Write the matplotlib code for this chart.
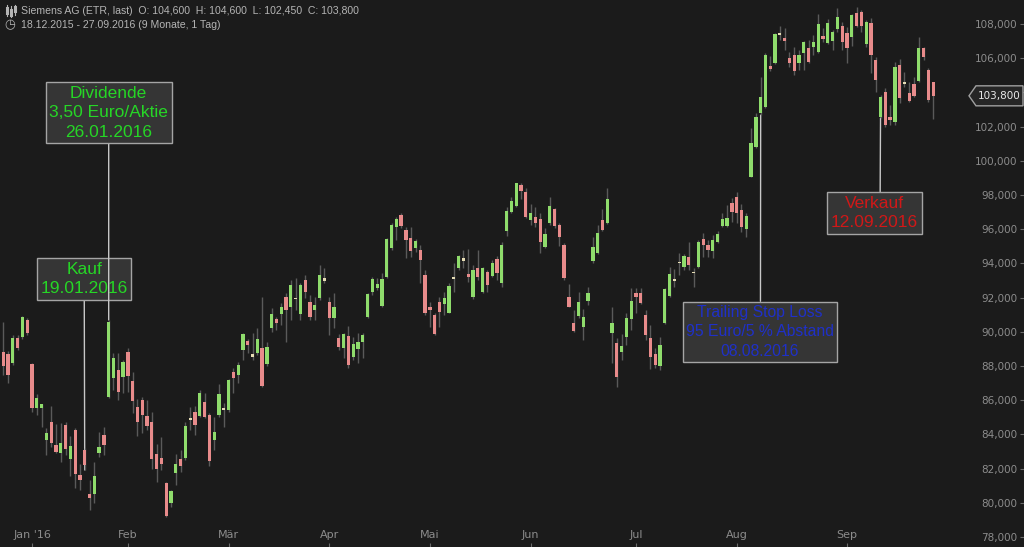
import matplotlib
matplotlib.use("Agg")
import matplotlib.pyplot as plt
from matplotlib.patches import Polygon
from matplotlib.lines import Line2D
from matplotlib.transforms import blended_transform_factory

# ---------------- data ----------------
opens = [88.84, 88.7, 88.16, 89.66, 89.68, 90.69, 88.10, 85.52, 85.52, 83.67,
         84.74, 83.38, 82.89, 84.55, 82.54, 84.26, 81.63, 83.09, 80.5, 80.5,
         82.89, 83.97, 86.17, 87.28, 87.77, 87.34, 88.84, 87.14, 85.62, 86.01,
         85.07, 84.74, 82.85, 82.6, 81.14, 79.97, 81.76, 82.54, 82.6, 84.84,
         85.33, 85.07, 85.92, 85.14, 83.68, 85.14, 85.43, 85.43, 87.67, 87.47,
         88.94, 89.48, 88.55, 88.74, 89.03, 88.12, 90.2, 90.73, 91.04, 92.02,
         91.43, 92.0, 91.04, 93.03, 91.77, 91.28, 91.96, 93.0, 91.77, 90.79,
         89.62, 89.04, 89.76, 88.51, 88.98, 89.39, 90.85, 92.35, 92.54, 91.51,
         93.19, 94.88, 96.11, 96.83, 95.96, 95.47, 94.88, 94.79, 93.32, 91.47,
         90.99, 91.77, 91.63, 91.12, 93.09, 93.71, 94.16, 93.36, 92.01, 93.75,
         92.35, 93.5, 93.26, 94.24, 92.87, 95.91, 97.02, 97.35, 98.58, 98.15,
         96.54, 96.73, 96.58, 94.94, 96.34, 97.16, 96.25, 95.07, 92.01, 90.53,
         90.92, 90.26, 91.82, 94.16, 94.59, 96.54, 96.38, 89.91, 89.36, 88.84,
         89.72, 90.73, 92.29, 92.29, 90.99, 89.62, 88.7, 88.0, 90.54, 92.1,
         93.0, 94.03, 93.81, 94.36, 93.48, 93.77, 95.41, 95.08, 94.73, 95.27,
         96.19, 96.19, 97.55, 97.87, 97.13, 96.0, 99.07, 100.82, 102.77, 103.12,
         105.54, 105.74, 107.35, 107.18, 105.99, 106.18, 105.7, 106.28, 106.57, 106.63,
         106.38, 107.32, 106.9, 107.02, 107.69, 107.88, 107.49, 107.26, 108.66, 108.72,
         106.83, 108.04, 105.89, 102.58, 104.04, 102.58, 102.29, 105.6, 104.62, 103.94,
         104.49, 104.68, 106.57, 105.31, 104.6]
highs = [90.59, 88.9, 89.81, 89.81, 90.9, 90.79, 88.15, 86.34, 85.76, 84.35,
         85.66, 84.6, 84.65, 84.74, 83.9, 84.36, 82.27, 83.19, 81.33, 82.41,
         84.16, 84.45, 90.69, 88.78, 88.78, 88.35, 89.03, 87.67, 86.05, 86.21,
         86.01, 85.33, 83.44, 83.83, 81.24, 80.75, 82.85, 83.09, 84.74, 85.62,
         85.66, 86.6, 86.4, 85.23, 85.04, 86.95, 85.82, 87.22, 87.86, 88.25,
         89.95, 89.56, 89.95, 90.2, 92.02, 89.42, 91.37, 90.89, 91.7, 92.25,
         93.03, 93.13, 92.84, 93.32, 92.15, 92.06, 93.91, 93.72, 92.06, 92.25,
         89.87, 89.91, 90.35, 89.68, 89.91, 89.95, 92.25, 93.23, 93.13, 93.42,
         95.47, 96.38, 96.7, 96.93, 96.15, 96.15, 95.41, 95.08, 93.62, 91.77,
         91.08, 92.06, 92.35, 92.84, 94.0, 94.5, 94.78, 94.82, 93.9, 94.78,
         93.81, 93.61, 94.2, 94.43, 95.27, 97.28, 97.86, 98.72, 98.68, 98.39,
         97.47, 97.28, 96.96, 96.05, 97.9, 97.22, 96.34, 95.17, 92.79, 91.27,
         92.35, 91.31, 92.64, 95.56, 96.24, 97.16, 98.39, 91.47, 89.62, 89.87,
         91.08, 92.54, 92.54, 92.54, 91.28, 90.4, 89.04, 89.68, 92.54, 93.81,
         93.66, 94.63, 94.55, 95.27, 93.71, 95.37, 95.76, 95.37, 95.66, 95.92,
         96.93, 97.42, 97.81, 98.2, 97.48, 96.93, 101.9, 102.81, 104.88, 106.28,
         106.13, 107.49, 107.88, 107.74, 106.38, 106.67, 106.48, 107.02, 107.06, 107.35,
         108.58, 107.74, 108.27, 107.65, 108.91, 108.13, 107.8, 108.58, 108.97, 108.82,
         108.23, 108.33, 106.09, 103.85, 104.23, 103.26, 105.79, 105.93, 105.21, 104.62,
         104.88, 107.26, 106.67, 105.41, 104.6]
lows = [87.47, 87.0, 88.06, 88.94, 89.6, 89.81, 85.33, 85.14, 84.45, 82.8,
        83.28, 82.9, 82.41, 82.8, 81.57, 80.85, 80.75, 81.92, 79.58, 80.0,
        82.7, 82.8, 86.11, 86.6, 86.01, 86.4, 86.5, 85.23, 83.91, 84.06,
        84.26, 82.0, 81.24, 81.92, 79.15, 79.77, 81.04, 81.82, 82.5, 84.26,
        83.97, 85.04, 84.94, 82.15, 83.09, 85.04, 84.45, 85.33, 86.4, 87.03,
        88.35, 88.78, 88.35, 88.64, 86.75, 88.0, 90.0, 90.11, 90.4, 89.42,
        90.69, 91.28, 90.69, 91.96, 90.69, 90.69, 91.86, 92.88, 89.82, 90.2,
        88.94, 88.45, 87.87, 88.35, 88.2, 88.45, 90.79, 92.15, 92.45, 91.47,
        93.13, 94.79, 95.37, 96.05, 94.3, 94.36, 94.69, 92.84, 90.99, 90.3,
        89.82, 90.3, 90.99, 91.08, 92.35, 93.62, 93.71, 92.93, 91.9, 93.03,
        92.29, 92.35, 93.18, 93.03, 92.64, 95.6, 96.93, 97.28, 97.74, 96.63,
        96.24, 96.11, 94.59, 94.88, 96.24, 96.05, 95.02, 93.03, 91.43, 90.0,
        90.79, 89.52, 91.57, 94.04, 94.55, 95.91, 96.3, 88.19, 86.79, 88.35,
        89.23, 90.11, 91.08, 91.63, 89.52, 87.81, 87.87, 87.77, 90.46, 92.02,
        92.64, 93.32, 93.62, 93.62, 92.64, 93.71, 94.36, 94.4, 94.3, 95.18,
        96.15, 96.15, 96.44, 96.39, 95.86, 95.57, 99.03, 100.73, 102.67, 103.06,
        105.27, 105.66, 107.06, 106.48, 105.5, 105.01, 105.31, 105.31, 105.74, 106.18,
        106.28, 106.96, 106.83, 106.48, 107.55, 106.48, 105.74, 106.71, 107.84, 107.55,
        106.67, 105.11, 104.04, 102.5, 101.99, 102.09, 102.09, 103.36, 104.33, 103.45,
        103.71, 104.62, 105.89, 103.45, 102.45]
closes = [88.0, 87.5, 89.66, 89.03, 90.85, 89.91, 85.52, 86.11, 85.76, 84.10,
          83.48, 82.99, 83.48, 83.13, 83.34, 81.68, 81.33, 82.21, 80.3, 81.57,
          83.29, 83.38, 90.59, 88.45, 86.5, 88.21, 87.42, 85.97, 84.74, 85.13,
          84.49, 82.54, 81.96, 82.27, 79.23, 80.71, 82.27, 82.15, 84.49, 84.94,
          84.55, 86.44, 85.0, 82.47, 84.16, 86.36, 85.57, 87.18, 87.28, 88.06,
          89.87, 89.23, 88.70, 89.56, 86.83, 89.09, 91.04, 90.5, 91.47, 91.28,
          92.74, 91.9, 92.74, 92.35, 90.89, 91.57, 93.32, 93.13, 90.79, 91.47,
          89.09, 89.87, 88.06, 89.29, 89.39, 89.82, 92.21, 93.07, 92.78, 93.09,
          95.41, 96.25, 96.58, 96.19, 95.37, 94.75, 95.31, 94.2, 91.08, 91.28,
          89.88, 91.18, 91.96, 92.68, 93.19, 94.44, 94.29, 93.18, 93.61, 93.18,
          93.71, 92.73, 94.0, 93.42, 95.07, 97.08, 97.65, 98.68, 98.25, 96.73,
          96.93, 96.34, 95.27, 95.72, 97.35, 96.19, 95.56, 93.12, 91.47, 90.06,
          91.76, 90.88, 92.29, 94.94, 95.76, 95.95, 97.74, 90.49, 87.34, 89.17,
          90.79, 91.82, 92.02, 91.71, 89.82, 88.55, 88.06, 89.23, 92.49, 93.38,
          93.06, 94.11, 94.44, 93.91, 93.42, 95.27, 95.08, 94.79, 95.37, 95.72,
          96.58, 96.68, 97.03, 96.93, 96.15, 96.77, 101.06, 102.54, 103.75, 106.18,
          105.35, 107.41, 107.45, 107.0, 105.74, 105.27, 106.18, 106.92, 105.79, 106.94,
          108.0, 107.14, 108.04, 107.51, 108.43, 106.96, 106.57, 108.52, 107.88, 107.88,
          108.13, 106.18, 104.72, 103.75, 102.09, 102.38, 105.5, 103.65, 104.49, 103.51,
          103.79, 106.57, 106.09, 103.55, 103.8]

month_labels = ["Jan '16", "Feb", "Mär", "Apr", "Mai", "Jun", "Jul", "Aug", "Sep"]
month_idx = [6, 26, 47, 68, 89, 110, 132, 153, 176]
y_ticks = list(range(78, 109, 2))

header_1 = "Siemens AG (ETR, last)  O: 104,600  H: 104,600  L: 102,450  C: 103,800"
header_2 = "18.12.2015 - 27.09.2016 (9 Monate, 1 Tag)"

# annotation: text, candle index, which price the connector reaches, colour
notes = [
    ("Kauf\n19.01.2016", 17, "low", "#26d626"),
    ("Dividende\n3,50 Euro/Aktie\n26.01.2016", 22, "high", "#26d626"),
    ("Trailing Stop Loss\n95 Euro/5 % Abstand\n08.08.2016", 158, "low", "#1f30c8"),
    ("Verkauf\n12.09.2016", 183, "low", "#d01818"),
]
# box placement (layout): centre x (index), centre y (price), connector rel. pos, font size
note_layout = [
    (16.9, 93.09, (0.5, 0.0), 12.5),
    (22.0, 102.80, (0.5, 0.0), 12.5),
    (157.8, 89.99, (0.505, 1.0), 11.3),
    (181.74, 96.95, (0.565, 1.0), 12.5),
]

# ---------------- styling ----------------
BG = "#1b1b1b"
GREEN = "#8fdc6c"
RED = "#e88b8b"
CREAM = "#e6dcb4"
WICK = "#5a5a5a"
AXTXT = "#8c8c8c"

fig = plt.figure(figsize=(10.24, 5.47), dpi=100, facecolor=BG)
ax = fig.add_axes([0, 0, 1, 1])
ax.set_facecolor(BG)

n = len(closes)
idx = list(range(n))
cols = []
for o, c in zip(opens, closes):
    if abs(c - o) < 0.16:
        cols.append(CREAM)
    elif c > o:
        cols.append(GREEN)
    else:
        cols.append(RED)

ax.vlines(idx, lows, highs, colors=WICK, linewidth=1.0, zorder=2)
ax.bar(idx, [abs(c - o) for o, c in zip(opens, closes)],
       bottom=[min(o, c) for o, c in zip(opens, closes)],
       width=0.68, color=cols, linewidth=0, zorder=3)

ax.set_xlim(-0.675, 212.93)
ax.set_ylim(77.415, 109.404)

for s in ax.spines.values():
    s.set_visible(False)

ax.set_xticks(month_idx)
ax.set_xticklabels(month_labels)
ax.tick_params(axis="x", direction="in", length=3, width=0.8, color="#6a6a6a",
               labelcolor=AXTXT, labelsize=8, pad=-12)

last = closes[-1]
ax.yaxis.tick_right()
ax.set_yticks(y_ticks)
# the label hidden behind the last-price tag is left blank
ax.set_yticklabels(["" if abs(v - last) < 1.0 else f"{v:.3f}".replace(".", ",")
                    for v in y_ticks])
ax.tick_params(axis="y", direction="in", length=3, width=0.8, color="#6a6a6a",
               labelcolor=AXTXT, labelsize=7.5, pad=-5)
for t in ax.yaxis.get_major_ticks():
    t.label1.set_horizontalalignment("right")
    t.label2.set_horizontalalignment("right")

# annotations
for k, ((txt, i, which, col), (bx, by, rel, fs)) in enumerate(zip(notes, note_layout)):
    price = lows[i] if which == "low" else highs[i]
    ax.annotate(txt, xy=(i, price), xytext=(bx, by), textcoords="data",
                ha="center", va="center", fontsize=fs, family="Liberation Sans",
                color=col, linespacing=1.38,
                bbox=dict(boxstyle="square,pad=0.2", fc="#353535", ec="#a5a5a5", lw=1),
                arrowprops=dict(arrowstyle="-", color="#c8c8c8", lw=1,
                                shrinkA=0, shrinkB=0, relpos=rel),
                zorder=1.5 + 0.1 * k)

# last price tag
h = 10 / 17.1
tr = blended_transform_factory(ax.transAxes, ax.transData)
tag = Polygon([(969 / 1024, last), (976 / 1024, last + h), (1023 / 1024, last + h),
               (1023 / 1024, last - h), (976 / 1024, last - h)], closed=True,
              transform=tr, fc="#262626", ec="#a0a0a0", lw=1, zorder=10, clip_on=False)
ax.add_patch(tag)
ax.text(999 / 1024, last, f"{last:.3f}".replace(".", ","), transform=tr, ha="center",
        va="center", fontsize=7.5, color="#e8e8e8", zorder=11)

# header
fig.text(21 / 1024, 1 - 11 / 547, header_1, ha="left", va="center", fontsize=7.6,
         color="#b4b4b4", family="Liberation Sans")
fig.text(21 / 1024, 1 - 25 / 547, header_2, ha="left", va="center", fontsize=7.6,
         color="#b4b4b4", family="Liberation Sans")
fig.text(10 / 1024, 1 - 25 / 547, "◷", ha="center", va="center", fontsize=9,
         color="#b4b4b4", family="DejaVu Sans")
W, H = 1024.0, 547.0
for xp, y0, y1, b0, b1 in [(7, 5, 16, 8, 13), (11, 6, 17, 10, 15), (15, 5, 15, 7, 11)]:
    fig.add_artist(Line2D([xp / W, xp / W], [1 - y0 / H, 1 - y1 / H], color="#b4b4b4", lw=0.8))
    fig.add_artist(Line2D([xp / W, xp / W], [1 - b0 / H, 1 - b1 / H], color="#b4b4b4", lw=2.2))

fig.savefig("out.png", dpi=100, facecolor=BG)
